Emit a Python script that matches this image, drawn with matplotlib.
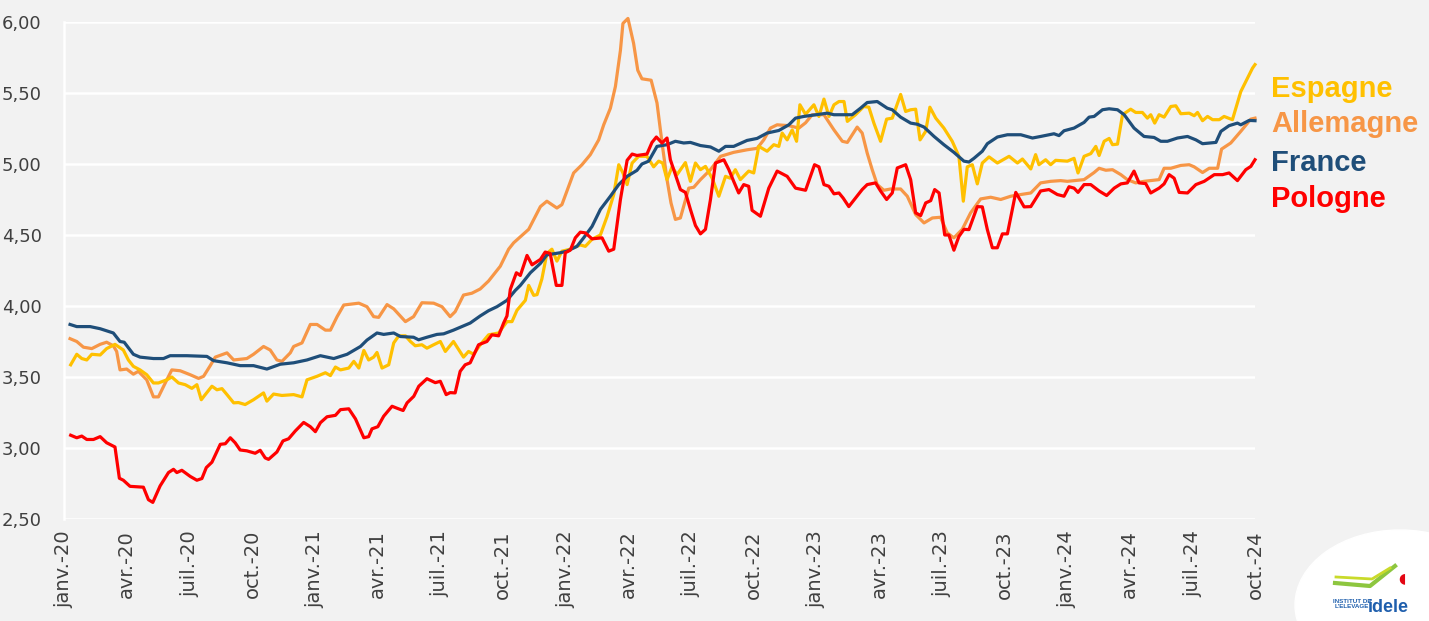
import matplotlib.pyplot as plt
from matplotlib.patches import Ellipse

# x = mois depuis janv.-20 (0 = janv.-20, 57 = oct.-24)
fr_m = [0.29, 0.61, 1.25, 1.73, 2.36, 2.68, 2.88, 3.32, 3.64, 4.28, 4.76, 5.08, 5.88, 6.84, 7.16, 7.8,
        8.43, 9.07, 9.71, 10.35, 10.99, 11.63, 12.27, 12.91, 13.55, 14.19, 14.5, 14.98, 15.3, 15.78, 16.1,
        16.73, 16.97, 17.37, 17.85, 18.17, 18.64, 19.04, 19.44, 19.92, 20.32, 20.72, 21.2, 21.6, 21.84,
        22.32, 22.8, 23.11, 23.75, 24.07, 24.55, 24.87, 25.27, 25.67, 26.15, 26.55, 26.95, 27.42, 27.66,
        27.98, 28.38, 28.86, 29.26, 29.66, 29.98, 30.46, 30.94, 31.34, 31.66, 32.05, 32.69, 33.17, 33.65,
        34.21, 34.69, 35.01, 35.41, 36.53, 36.85, 37.72, 38.12, 38.44, 38.92, 39.4, 39.64, 40.04, 40.52,
        40.84, 41.16, 41.64, 42.11, 42.59, 43.07, 43.31, 43.55, 43.95, 44.19, 44.67, 45.15, 45.79, 46.35,
        46.74, 47.38, 47.62, 47.86, 48.34, 48.82, 49.06, 49.3, 49.7, 50.02, 50.42, 50.74, 51.21, 51.69,
        52.17, 52.49, 52.81, 53.29, 53.77, 54.17, 54.49, 55.13, 55.37, 55.76, 56.16, 56.32, 56.72, 57.0]
fr_v = [3.87, 3.855, 3.855, 3.84, 3.81, 3.75, 3.745, 3.66, 3.64, 3.63, 3.63, 3.65, 3.65, 3.645, 3.615, 3.6,
        3.58, 3.58, 3.556, 3.59, 3.6, 3.62, 3.65, 3.63, 3.66, 3.715, 3.76, 3.81, 3.8, 3.81, 3.785,
        3.78, 3.762, 3.78, 3.8, 3.804, 3.83, 3.855, 3.88, 3.93, 3.967, 3.995, 4.04, 4.11, 4.145,
        4.234, 4.3, 4.36, 4.375, 4.386, 4.42, 4.48, 4.56, 4.68, 4.773, 4.855, 4.913, 4.955, 5.0,
        5.02, 5.124, 5.136, 5.16, 5.148, 5.152, 5.13, 5.12, 5.09, 5.124, 5.124, 5.166, 5.18, 5.218,
        5.236, 5.276, 5.323, 5.335, 5.358, 5.347, 5.347, 5.393, 5.433, 5.44, 5.393, 5.382, 5.33, 5.288,
        5.28, 5.26, 5.194, 5.136, 5.082, 5.02, 5.014, 5.04, 5.09, 5.143, 5.19, 5.206, 5.206, 5.183,
        5.194, 5.213, 5.2, 5.234, 5.253, 5.293, 5.33, 5.335, 5.382, 5.389, 5.382, 5.347, 5.253, 5.194,
        5.187, 5.16, 5.16, 5.183, 5.194, 5.17, 5.143, 5.152, 5.23, 5.27, 5.288, 5.276, 5.307, 5.305]

es_m = [0.32, 0.61, 0.85, 1.09, 1.33, 1.73, 2.04, 2.44, 2.84, 3.08, 3.32, 3.64, 3.96, 4.28, 4.52, 4.92,
        5.16, 5.48, 5.8, 6.12, 6.36, 6.57, 6.76, 7.08, 7.32, 7.56, 7.8, 8.12, 8.35, 8.67, 9.07, 9.55,
        9.71, 10.03, 10.43, 10.99, 11.39, 11.63, 12.11, 12.51, 12.75, 12.99, 13.23, 13.63, 13.87, 14.11,
        14.35, 14.58, 14.82, 14.98, 15.22, 15.54, 15.78, 16.02, 16.34, 16.58, 16.81, 17.13, 17.37, 17.69,
        18.01, 18.25, 18.64, 19.12, 19.36, 19.6, 19.92, 20.32, 20.8, 21.2, 21.44, 21.68, 22.08, 22.24,
        22.48, 22.64, 22.87, 23.11, 23.35, 23.59, 23.83, 24.23, 24.71, 24.95, 25.27, 25.67, 25.99, 26.31,
        26.55, 26.75, 26.95, 27.19, 27.5, 27.9, 28.22, 28.46, 28.65, 28.86, 29.1, 29.34, 29.74, 29.98,
        30.22, 30.46, 30.7, 31.02, 31.34, 31.66, 31.89, 32.13, 32.37, 32.77, 33.01, 33.25, 33.65, 33.97,
        34.21, 34.37, 34.61, 34.85, 35.06, 35.22, 35.49, 35.89, 36.13, 36.37, 36.61, 36.85, 37.09, 37.33,
        37.49, 37.88, 38.28, 38.52, 38.76, 39.08, 39.37, 39.64, 40.04, 40.28, 40.52, 40.76, 40.97, 41.24,
        41.44, 41.72, 42.11, 42.51, 42.83, 43.04, 43.23, 43.47, 43.71, 43.95, 44.27, 44.67, 45.23, 45.63,
        45.87, 46.27, 46.5, 46.66, 46.98, 47.22, 47.46, 48.02, 48.34, 48.53, 48.82, 49.14, 49.38, 49.54,
        49.78, 50.02, 50.18, 50.42, 50.66, 51.05, 51.29, 51.61, 51.85, 52.01, 52.2, 52.41, 52.65, 52.97,
        53.21, 53.45, 53.85, 54.09, 54.25, 54.49, 54.73, 54.97, 55.29, 55.52, 55.92, 56.32, 56.64, 56.88, 57.0]
es_v = [3.586, 3.66, 3.63, 3.62, 3.66, 3.655, 3.7, 3.73, 3.69, 3.62, 3.575, 3.55, 3.516, 3.458, 3.458, 3.48,
        3.5, 3.458, 3.446, 3.42, 3.446, 3.34, 3.376, 3.435, 3.41, 3.418, 3.376, 3.318, 3.32, 3.306, 3.34, 3.388,
        3.33, 3.38, 3.37, 3.376, 3.36, 3.48, 3.505, 3.53, 3.51, 3.57, 3.55, 3.563, 3.61, 3.563,
        3.687, 3.62, 3.64, 3.673, 3.563, 3.586, 3.74, 3.79, 3.79, 3.75, 3.72, 3.727, 3.703, 3.727,
        3.75, 3.68, 3.75, 3.64, 3.68, 3.66, 3.727, 3.797, 3.81, 3.89, 3.89, 3.97, 4.04, 4.145,
        4.075, 4.08, 4.19, 4.37, 4.4, 4.316, 4.386, 4.4, 4.43, 4.42, 4.47, 4.5, 4.63, 4.785,
        4.995, 4.937, 4.855, 5.007, 5.054, 5.054, 4.98, 5.02, 5.007, 4.89, 4.98, 4.925, 5.01, 4.878,
        5.007, 4.96, 4.983, 4.9, 4.773, 4.913, 4.9, 4.96, 4.89, 4.95, 4.937, 5.124, 5.09, 5.136,
        5.124, 5.218, 5.17, 5.24, 5.16, 5.417, 5.35, 5.417, 5.335, 5.457, 5.335, 5.417, 5.44, 5.44,
        5.3, 5.347, 5.405, 5.4, 5.288, 5.16, 5.316, 5.323, 5.49, 5.37, 5.382, 5.386, 5.17, 5.23,
        5.4, 5.323, 5.253, 5.16, 5.054, 4.738, 4.98, 4.995, 4.86, 5.007, 5.05, 5.007, 5.054, 5.007,
        5.035, 4.965, 5.066, 4.995, 5.03, 4.995, 5.026, 5.02, 5.04, 4.937, 5.054, 5.073, 5.124, 5.06,
        5.16, 5.18, 5.136, 5.14, 5.347, 5.386, 5.363, 5.363, 5.323, 5.347, 5.288, 5.347, 5.33, 5.405,
        5.41, 5.354, 5.358, 5.34, 5.363, 5.305, 5.335, 5.312, 5.312, 5.335, 5.312, 5.51, 5.604, 5.675, 5.70]

de_m = [0.29, 0.61, 0.93, 1.33, 1.73, 2.04, 2.36, 2.52, 2.68, 3.0, 3.32, 3.56, 3.96, 4.28, 4.52, 4.92,
        5.16, 5.56, 6.04, 6.44, 6.68, 7.0, 7.24, 7.8, 8.12, 8.75, 9.07, 9.55, 9.87, 10.19, 10.43, 10.83,
        10.99, 11.39, 11.79, 12.11, 12.51, 12.75, 13.07, 13.39, 14.11, 14.5, 14.82, 15.06, 15.46, 15.78,
        16.34, 16.73, 17.13, 17.69, 18.09, 18.48, 18.72, 19.12, 19.52, 19.92, 20.32, 20.88, 21.28, 21.52,
        22.24, 22.8, 23.11, 23.59, 23.83, 24.39, 24.79, 25.19, 25.59, 25.83, 26.15, 26.39, 26.63, 26.75,
        26.99, 27.26, 27.46, 27.66, 28.1, 28.38, 28.62, 28.86, 29.05, 29.26, 29.5, 29.9, 30.14, 30.46,
        30.94, 31.42, 32.05, 32.69, 33.17, 33.49, 33.81, 34.13, 34.69, 35.17, 35.49, 35.81, 36.37, 36.85,
        37.25, 37.49, 37.96, 38.2, 38.44, 38.68, 38.92, 39.24, 39.56, 40.04, 40.36, 40.76, 41.16, 41.56,
        41.95, 42.27, 42.59, 42.99, 43.39, 43.87, 44.35, 44.83, 45.31, 45.79, 46.27, 46.74, 47.22, 47.7,
        48.02, 48.82, 49.3, 49.54, 49.86, 50.18, 50.58, 50.89, 51.29, 51.69, 52.41, 52.65, 52.97, 53.45,
        53.85, 54.09, 54.49, 54.81, 55.21, 55.4, 55.84, 56.32, 56.8, 57.0]
de_v = [3.77, 3.75, 3.71, 3.7, 3.73, 3.745, 3.72, 3.68, 3.55, 3.556, 3.52, 3.54, 3.48, 3.36, 3.36, 3.48,
        3.55, 3.544, 3.516, 3.49, 3.505, 3.58, 3.64, 3.67, 3.62, 3.63, 3.66, 3.715, 3.69, 3.62, 3.61, 3.67,
        3.715, 3.74, 3.87, 3.87, 3.83, 3.83, 3.925, 4.007, 4.02, 3.995, 3.925, 3.92, 4.01, 3.98,
        3.89, 3.925, 4.023, 4.02, 3.995, 3.925, 3.96, 4.077, 4.09, 4.12, 4.176, 4.28, 4.4, 4.445,
        4.54, 4.7, 4.738, 4.69, 4.714, 4.937, 4.995, 5.066, 5.17, 5.276, 5.393, 5.546, 5.8, 5.99,
        6.025, 5.85, 5.66, 5.6, 5.59, 5.43, 5.15, 4.89, 4.726, 4.61, 4.62, 4.83, 4.836, 4.89,
        4.96, 5.054, 5.082, 5.1, 5.11, 5.17, 5.253, 5.276, 5.27, 5.253, 5.29, 5.347, 5.347, 5.24,
        5.16, 5.152, 5.26, 5.218, 5.077, 4.96, 4.855, 4.815, 4.824, 4.824, 4.773, 4.644, 4.585, 4.62,
        4.625, 4.515, 4.48, 4.54, 4.656, 4.754, 4.766, 4.75, 4.773, 4.785, 4.796, 4.867, 4.878, 4.883,
        4.878, 4.89, 4.94, 4.97, 4.956, 4.96, 4.925, 4.89, 4.867, 4.878, 4.89, 4.97, 4.97, 4.99,
        4.995, 4.98, 4.94, 4.97, 4.97, 5.105, 5.148, 5.23, 5.316, 5.323]

pl_m = [0.32, 0.61, 0.85, 1.09, 1.41, 1.73, 2.04, 2.44, 2.65, 2.84, 3.16, 3.8, 4.04, 4.25, 4.6, 5.0,
        5.24, 5.4, 5.64, 6.04, 6.36, 6.6, 6.81, 7.08, 7.48, 7.72, 7.96, 8.19, 8.43, 8.75, 9.15, 9.39,
        9.63, 9.79, 10.19, 10.48, 10.75, 11.07, 11.47, 11.79, 12.03, 12.27, 12.59, 12.99, 13.23, 13.63,
        13.95, 14.35, 14.58, 14.74, 15.02, 15.3, 15.7, 15.94, 16.23, 16.42, 16.74, 16.98, 17.37, 17.77,
        18.01, 18.29, 18.48, 18.72, 18.96, 19.2, 19.44, 19.84, 20.24, 20.48, 20.8, 21.04, 21.2, 21.36,
        21.65, 21.84, 22.16, 22.4, 22.8, 23.03, 23.27, 23.56, 23.83, 23.99, 24.23, 24.47, 24.71, 24.95,
        25.27, 25.75, 26.07, 26.31, 26.63, 26.95, 27.19, 27.42, 27.9, 28.14, 28.35, 28.62, 28.86, 29.02,
        29.26, 29.5, 29.74, 29.98, 30.22, 30.46, 30.7, 30.94, 31.18, 31.58, 31.82, 32.05, 32.29, 32.53,
        32.77, 32.93, 33.33, 33.73, 34.13, 34.61, 35.01, 35.49, 35.92, 36.13, 36.37, 36.61, 36.85, 37.09,
        37.29, 37.56, 37.88, 38.2, 38.44, 38.84, 39.08, 39.37, 39.64, 39.88, 40.28, 40.52, 40.76, 41.0,
        41.24, 41.48, 41.67, 41.88, 42.15, 42.35, 42.59, 42.83, 43.07, 43.31, 43.71, 43.95, 44.19, 44.43,
        44.67, 44.91, 45.15, 45.55, 45.95, 46.27, 46.74, 47.14, 47.54, 47.86, 48.1, 48.34, 48.53, 48.82,
        49.14, 49.54, 49.9, 50.26, 50.58, 50.89, 51.21, 51.45, 51.77, 52.01, 52.41, 52.65, 52.89, 53.13,
        53.37, 53.77, 54.17, 54.57, 55.05, 55.45, 55.76, 56.16, 56.56, 56.8, 57.0]
pl_v = [3.09, 3.072, 3.084, 3.06, 3.06, 3.08, 3.037, 3.007, 2.787, 2.773, 2.73, 2.724, 2.636, 2.617, 2.733, 2.827,
        2.85, 2.827, 2.843, 2.8, 2.773, 2.785, 2.862, 2.9, 3.026, 3.03, 3.072, 3.037, 2.986, 2.98, 2.963, 2.984,
        2.93, 2.92, 2.972, 3.05, 3.065, 3.12, 3.18, 3.15, 3.115, 3.178, 3.22, 3.23, 3.27, 3.276,
        3.205, 3.072, 3.08, 3.135, 3.15, 3.224, 3.294, 3.28, 3.264, 3.318, 3.364, 3.435, 3.488, 3.46,
        3.47, 3.376, 3.39, 3.388, 3.54, 3.586, 3.6, 3.727, 3.75, 3.797, 3.79, 3.88, 3.93, 4.117,
        4.234, 4.215, 4.356, 4.29, 4.328, 4.38, 4.37, 4.145, 4.145, 4.375, 4.393, 4.48, 4.52, 4.515,
        4.473, 4.48, 4.386, 4.4, 4.75, 5.026, 5.07, 5.06, 5.07, 5.152, 5.19, 5.148, 5.183, 5.03,
        4.925, 4.82, 4.8, 4.68, 4.567, 4.508, 4.54, 4.75, 5.007, 5.03, 4.96, 4.878, 4.796, 4.855,
        4.843, 4.674, 4.632, 4.83, 4.95, 4.913, 4.83, 4.815, 4.995, 4.98, 4.855, 4.843, 4.79, 4.796,
        4.76, 4.7, 4.76, 4.82, 4.855, 4.867, 4.81, 4.75, 4.796, 4.972, 4.995, 4.89, 4.656, 4.637,
        4.726, 4.742, 4.82, 4.796, 4.5, 4.5, 4.393, 4.49, 4.54, 4.538, 4.7, 4.698, 4.538, 4.41,
        4.41, 4.508, 4.508, 4.8, 4.698, 4.7, 4.81, 4.82, 4.785, 4.773, 4.84, 4.83, 4.8, 4.855,
        4.855, 4.81, 4.778, 4.83, 4.86, 4.867, 4.95, 4.867, 4.862, 4.796, 4.83, 4.86, 4.925, 4.9,
        4.8, 4.796, 4.855, 4.878, 4.925, 4.925, 4.937, 4.883, 4.96, 4.983, 5.03]

tick_pos = list(range(0, 58, 3))
tick_lab = ['janv.-20', 'avr.-20', 'juil.-20', 'oct.-20', 'janv.-21', 'avr.-21', 'juil.-21', 'oct.-21',
            'janv.-22', 'avr.-22', 'juil.-22', 'oct.-22', 'janv.-23', 'avr.-23', 'juil.-23', 'oct.-23',
            'janv.-24', 'avr.-24', 'juil.-24', 'oct.-24']
yticks = [2.5, 3.0, 3.5, 4.0, 4.5, 5.0, 5.5, 6.0]

c_es = '#FFC000'
c_de = '#F79646'
c_fr = '#1F4E79'
c_pl = '#FF0000'
bg = '#F2F2F2'

fig = plt.figure(figsize=(14.29, 6.21), dpi=100, facecolor=bg)
ax = fig.add_axes([64 / 1429, 1 - 519 / 621, (1255 - 64) / 1429, (519 - 22) / 621])
ax.set_facecolor(bg)

# le pic allemand dépasse 6,00 : pas de découpe
ax.plot(de_m, de_v, color=c_de, lw=2.3, zorder=3, clip_on=False)
ax.plot(es_m, es_v, color=c_es, lw=2.3, zorder=4, clip_on=False)
ax.plot(fr_m, fr_v, color=c_fr, lw=2.3, zorder=5, clip_on=False)
ax.plot(pl_m, pl_v, color=c_pl, lw=2.3, zorder=6, clip_on=False)

ax.set_xlim(0, 57)
ax.set_ylim(2.5, 6.0)
ax.set_yticks(yticks)
ax.set_yticklabels([f'{v:.2f}'.replace('.', ',') for v in yticks])
ax.set_xticks(tick_pos)
ax.set_xticklabels(tick_lab, rotation=90)
ax.grid(axis='y', color='white', lw=1.8, zorder=1)
ax.set_axisbelow(True)
for s in ['top', 'right', 'bottom']:
    ax.spines[s].set_visible(False)
ax.spines['left'].set_color('white')
ax.spines['left'].set_linewidth(1.8)
ax.tick_params(axis='both', length=0, labelsize=13, colors='#404040')
ax.tick_params(axis='x', labelsize=14, pad=8)
ax.tick_params(axis='y', pad=16)

# étiquettes des séries
labels = [('Espagne', c_es, 97), ('Allemagne', c_de, 132), ('France', c_fr, 171), ('Pologne', c_pl, 207)]
for txt, col, yb in labels:
    fig.text(1271 / 1429, 1 - yb / 621, txt, color=col, fontsize=21, fontweight='bold',
             family='Liberation Sans', va='baseline', ha='left')

# logo idele (simplifié)
fig.patches.append(Ellipse((1400 / 1429, 1 - 605 / 621), 210 / 1429, 150 / 621, angle=0,
                           transform=fig.transFigure, color='white', zorder=0))
fig.text(1388 / 1429, 1 - 612 / 621, 'idele', color='#1F5FAD', fontsize=13, fontweight='bold',
         family='Liberation Sans', ha='center', va='baseline')
fig.text(1352 / 1429, 1 - 604 / 621, "INSTITUT DE\nL'ELEVAGE", color='#1F5FAD', fontsize=4.5,
         fontweight='bold', family='Liberation Sans', ha='center', va='center', linespacing=1.0)
fig.lines.append(plt.Line2D([1335 / 1429, 1370 / 1429, 1395 / 1429], [1 - 583 / 621, 1 - 586 / 621, 1 - 566 / 621],
                            transform=fig.transFigure, color='#8DC63F', lw=3))
fig.lines.append(plt.Line2D([1336 / 1429, 1372 / 1429, 1390 / 1429], [1 - 577 / 621, 1 - 579 / 621, 1 - 568 / 621],
                            transform=fig.transFigure, color='#C9DA2A', lw=2))
fig.text(1402 / 1429, 1 - 578 / 621, '\u25D6', color='#E30613', fontsize=10, ha='center', va='center')

fig.savefig('out.png', dpi=100, facecolor=bg)
